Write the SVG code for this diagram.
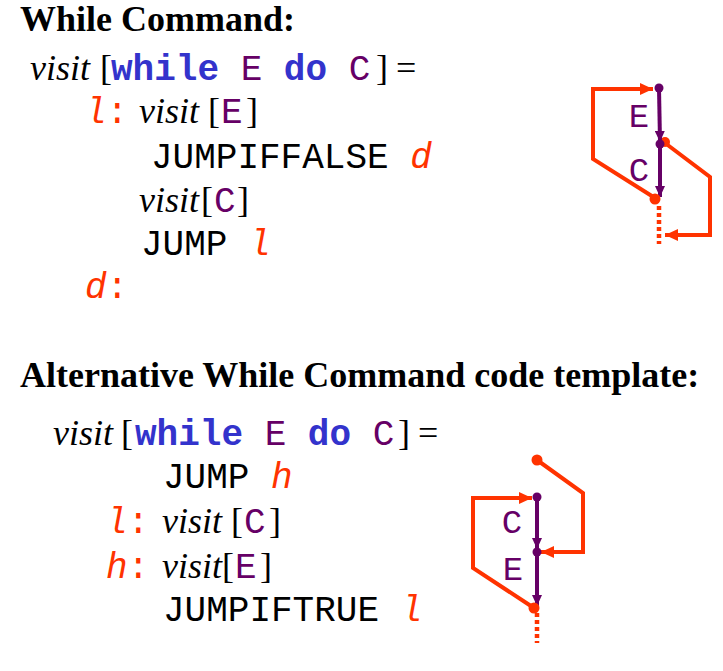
<svg xmlns="http://www.w3.org/2000/svg" width="723" height="671" viewBox="0 0 723 671">
<style>
.h{font-family:"Liberation Serif",serif;font-weight:bold;font-size:36px;fill:#000}
.it{font-family:"Liberation Serif",serif;font-style:italic;font-size:36px;fill:#000}
.tr{font-family:"Liberation Serif",serif;font-size:36px;fill:#000}
.m{font-family:"Liberation Mono",monospace;font-size:36px;fill:#000}
.kw{font-weight:bold;fill:#3333cc}
.pv{fill:#660066}
.lb{fill:#ff3300;font-style:italic}
.lbl{font-family:"Liberation Mono",monospace;font-size:34px;fill:#660066;text-anchor:middle}
.or{fill:none;stroke:#ff3300;stroke-width:4;stroke-linejoin:miter}
.pu{fill:none;stroke:#660066;stroke-width:4}
.dash{fill:none;stroke:#ff3300;stroke-width:4.5;stroke-dasharray:4 3}
.od{fill:#ff3300}
.pd{fill:#660066}
</style>
<defs>
<marker id="ao" markerUnits="userSpaceOnUse" markerWidth="14" markerHeight="12" refX="13" refY="6" orient="auto"><path d="M0,0 L13,6 L0,12 Z" fill="#ff3300"/></marker>
<marker id="ap" markerUnits="userSpaceOnUse" markerWidth="12" markerHeight="10" refX="11" refY="5" orient="auto"><path d="M0,0 L11,5 L0,10 Z" fill="#660066"/></marker>
</defs>

<g id="heading1"><text class="h" x="20" y="31">While Command:</text></g>

<g id="code1">
<text y="80"><tspan class="it" x="30">visit</tspan><tspan class="tr" x="100">[</tspan><tspan class="m" x="111"><tspan class="kw">while</tspan> <tspan class="pv">E</tspan> <tspan class="kw">do</tspan> <tspan class="pv">C</tspan></tspan><tspan class="tr" x="376">]</tspan><tspan class="tr" x="396">=</tspan></text>
<text y="123"><tspan class="m lb" x="85">l</tspan><tspan class="m" style="fill:#ff3300">:</tspan><tspan class="it" x="139">visit</tspan><tspan class="tr" x="208">[</tspan><tspan class="m pv" x="221">E</tspan><tspan class="tr" x="246">]</tspan></text>
<text class="m" x="151" y="168">JUMPIFFALSE <tspan class="lb">d</tspan></text>
<text y="212"><tspan class="it" x="139">visit</tspan><tspan class="tr" x="201">[</tspan><tspan class="m pv" x="214">C</tspan><tspan class="tr" x="237">]</tspan></text>
<text class="m" x="141" y="255">JUMP <tspan class="lb">l</tspan></text>
<text class="m" x="85" y="298"><tspan class="lb">d</tspan><tspan style="fill:#ff3300">:</tspan></text>
</g>

<g id="diagram1">
<text class="lbl" x="639" y="127">E</text>
<text class="lbl" x="639" y="181">C</text>
<g id="connectors1">
<path class="or" d="M655,198 L593,159 L593,89 L653,89" marker-end="url(#ao)"/>
<path class="or" d="M665,143 L710,177 L710,235 L665,235" marker-end="url(#ao)"/>
<path class="dash" d="M659,206 L659,244"/>
<circle class="od" cx="665" cy="142" r="5"/>
<path class="pu" d="M659,88 L660,142" marker-end="url(#ap)"/>
<path class="pu" d="M660,144 L660,197" marker-end="url(#ap)"/>
</g>
<circle class="pd" cx="659" cy="88" r="4.5"/>
<circle class="pd" cx="660" cy="144" r="4.5"/>
<circle class="od" cx="655" cy="199" r="5.5"/>
</g>

<g id="heading2"><text class="h" x="20" y="387">Alternative While Command code template:</text></g>

<g id="code2">
<text y="445"><tspan class="it" x="53">visit</tspan><tspan class="tr" x="121">[</tspan><tspan class="m" x="135"><tspan class="kw">while</tspan> <tspan class="pv">E</tspan> <tspan class="kw">do</tspan> <tspan class="pv">C</tspan></tspan><tspan class="tr" x="398">]</tspan><tspan class="tr" x="418">=</tspan></text>
<text class="m" x="163" y="488">JUMP <tspan class="lb">h</tspan></text>
<text y="533"><tspan class="m lb" x="106">l</tspan><tspan class="m" style="fill:#ff3300">:</tspan><tspan class="it" x="162">visit</tspan><tspan class="tr" x="231">[</tspan><tspan class="m pv" x="244">C</tspan><tspan class="tr" x="269">]</tspan></text>
<text y="578"><tspan class="m lb" x="106">h</tspan><tspan class="m" style="fill:#ff3300">:</tspan><tspan class="it" x="162">visit</tspan><tspan class="tr" x="222">[</tspan><tspan class="m pv" x="235">E</tspan><tspan class="tr" x="260">]</tspan></text>
<text class="m" x="163" y="621">JUMPIFTRUE <tspan class="lb">l</tspan></text>
</g>

<g id="diagram2">
<text class="lbl" x="512" y="533">C</text>
<text class="lbl" x="513" y="580">E</text>
<g id="connectors2">
<path class="or" d="M537,460 L583,493 L583,552 L541,552" marker-end="url(#ao)"/>
<path class="or" d="M534,608 L473,568 L473,498 L532,498" marker-end="url(#ao)"/>
<path class="dash" d="M537,613 L537,643"/>
<path class="pu" d="M537,497 L537,549" marker-end="url(#ap)"/>
<path class="pu" d="M537,552 L537,606" marker-end="url(#ap)"/>
</g>
<circle class="od" cx="537" cy="460" r="5.5"/>
<circle class="pd" cx="537" cy="497" r="4.5"/>
<circle class="pd" cx="537" cy="552" r="4.5"/>
<circle class="od" cx="534" cy="608" r="5.5"/>
</g>
</svg>
